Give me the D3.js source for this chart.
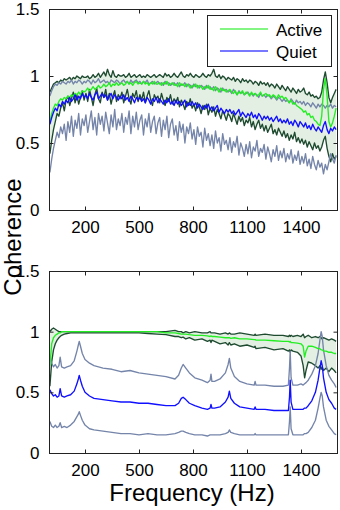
<!DOCTYPE html>
<html>
<head>
<meta charset="utf-8">
<script src="https://cdn.jsdelivr.net/npm/d3@7"></script>
<style>
  body { margin: 0; background: #fff; }
  svg { display: block; font-family: "Liberation Sans", Arial, sans-serif; }
</style>
</head>
<body>
<svg id="chart" width="340" height="510"></svg>
<script>
// top panel: sampled every 10 Hz (5 .. 1595), one row = 100 Hz
const topFreq = d3.range(5, 1600, 10);

const topActHi = [
  0.88,0.91,0.94,0.95,0.96,0.95,0.97,0.96,0.98,0.97,
  0.98,0.99,0.97,0.99,0.98,1.00,0.99,0.98,1.00,0.99,
  0.99,1.00,0.98,0.99,1.01,0.99,1.00,1.02,0.99,1.01,
  1.03,1.00,1.05,1.01,0.99,1.04,1.00,0.99,1.01,1.00,
  1.00,1.01,0.99,1.00,1.02,0.99,1.00,1.01,0.99,1.00,
  1.01,0.99,1.00,0.99,1.01,1.00,0.99,1.00,1.01,0.99,
  1.00,1.01,1.00,0.99,1.02,1.00,1.01,0.99,1.00,1.02,
  1.00,0.99,1.01,1.03,1.00,0.99,1.01,1.00,1.02,1.00,
  0.99,1.01,1.00,0.99,1.00,1.02,1.00,0.99,1.01,1.00,
  1.02,1.05,1.00,0.99,1.01,0.98,1.00,0.99,0.97,0.99,
  0.98,0.97,0.99,0.96,0.98,0.97,0.95,0.98,0.96,0.97,
  0.95,0.97,0.96,0.94,0.96,0.95,0.93,0.96,0.94,0.95,
  0.93,0.95,0.92,0.94,0.93,0.91,0.94,0.92,0.90,0.93,
  0.91,0.89,0.92,0.90,0.88,0.91,0.89,0.87,0.90,0.88,
  0.89,0.91,0.87,0.86,0.88,0.85,0.86,0.84,0.85,0.83,
  0.84,0.88,0.97,1.03,0.95,0.84,0.80,0.84,0.87,0.90
];
const topAct = [
  0.66,0.72,0.76,0.79,0.78,0.81,0.83,0.82,0.84,0.83,
  0.85,0.84,0.86,0.85,0.87,0.86,0.88,0.86,0.89,0.88,
  0.89,0.91,0.89,0.90,0.92,0.90,0.91,0.93,0.91,0.92,
  0.94,0.92,0.93,0.95,0.92,0.94,0.93,0.95,0.93,0.94,
  0.95,0.93,0.94,0.96,0.94,0.95,0.93,0.95,0.96,0.94,
  0.95,0.94,0.96,0.94,0.95,0.93,0.95,0.94,0.96,0.94,
  0.94,0.95,0.93,0.95,0.94,0.96,0.93,0.94,0.95,0.93,
  0.94,0.92,0.95,0.93,0.94,0.92,0.94,0.93,0.91,0.93,
  0.92,0.94,0.91,0.93,0.92,0.90,0.92,0.91,0.93,0.90,
  0.91,0.89,0.92,0.90,0.88,0.91,0.89,0.90,0.88,0.89,
  0.90,0.88,0.87,0.89,0.86,0.88,0.87,0.89,0.86,0.88,
  0.87,0.85,0.88,0.86,0.87,0.85,0.86,0.88,0.85,0.86,
  0.87,0.85,0.86,0.84,0.86,0.85,0.83,0.86,0.84,0.85,
  0.83,0.84,0.82,0.80,0.82,0.79,0.80,0.78,0.77,0.76,
  0.75,0.73,0.74,0.71,0.72,0.69,0.70,0.67,0.66,0.64,
  0.63,0.70,0.90,0.98,0.85,0.66,0.62,0.65,0.70,0.76
];
const topActLo = [
  0.42,0.52,0.60,0.66,0.72,0.70,0.76,0.80,0.74,0.82,
  0.85,0.78,0.83,0.88,0.80,0.86,0.79,0.84,0.89,0.82,
  0.87,0.81,0.90,0.84,0.78,0.86,0.91,0.83,0.80,0.88,
  0.84,0.90,0.82,0.87,0.79,0.85,0.89,0.81,0.86,0.83,
  0.88,0.80,0.85,0.90,0.83,0.79,0.87,0.84,0.89,0.81,
  0.86,0.82,0.88,0.80,0.85,0.89,0.82,0.78,0.86,0.83,
  0.85,0.80,0.87,0.82,0.78,0.84,0.81,0.86,0.79,0.83,
  0.80,0.84,0.77,0.82,0.79,0.75,0.81,0.78,0.83,0.76,
  0.79,0.74,0.80,0.77,0.72,0.78,0.75,0.79,0.71,0.76,
  0.73,0.77,0.70,0.75,0.72,0.68,0.74,0.71,0.67,0.72,
  0.70,0.66,0.72,0.68,0.64,0.70,0.66,0.69,0.63,0.67,
  0.65,0.69,0.62,0.66,0.60,0.64,0.67,0.61,0.64,0.59,
  0.63,0.58,0.61,0.64,0.57,0.60,0.56,0.61,0.58,0.55,
  0.59,0.54,0.57,0.52,0.56,0.53,0.58,0.51,0.54,0.50,
  0.53,0.49,0.52,0.47,0.51,0.48,0.45,0.50,0.46,0.48,
  0.44,0.47,0.52,0.55,0.46,0.40,0.36,0.42,0.38,0.40
];
const topQuiHi = [
  0.85,0.89,0.92,0.94,0.93,0.95,0.94,0.96,0.95,0.94,
  0.96,0.95,0.97,0.94,0.96,0.95,0.97,0.96,0.94,0.96,
  0.95,0.97,0.96,0.94,0.97,0.95,0.96,0.98,0.95,0.96,
  0.97,0.95,0.96,0.94,0.97,0.96,0.95,0.97,0.96,0.94,
  0.96,0.97,0.95,0.96,0.94,0.97,0.95,0.96,0.97,0.95,
  0.96,0.94,0.96,0.95,0.97,0.94,0.95,0.96,0.94,0.95,
  0.96,0.94,0.95,0.93,0.96,0.94,0.95,0.93,0.94,0.95,
  0.93,0.95,0.92,0.94,0.93,0.95,0.92,0.94,0.93,0.91,
  0.94,0.92,0.93,0.91,0.93,0.92,0.90,0.93,0.91,0.92,
  0.90,0.92,0.89,0.91,0.90,0.88,0.91,0.89,0.90,0.88,
  0.89,0.87,0.90,0.88,0.86,0.89,0.87,0.88,0.86,0.87,
  0.88,0.86,0.87,0.85,0.87,0.86,0.84,0.87,0.85,0.86,
  0.84,0.86,0.85,0.83,0.85,0.84,0.82,0.84,0.83,0.81,
  0.83,0.81,0.82,0.80,0.83,0.81,0.79,0.82,0.80,0.81,
  0.79,0.81,0.78,0.80,0.79,0.77,0.80,0.78,0.76,0.79,
  0.77,0.79,0.78,0.76,0.78,0.77,0.79,0.76,0.78,0.77
];
const topQui = [
  0.64,0.69,0.73,0.76,0.74,0.79,0.77,0.81,0.79,0.82,
  0.80,0.84,0.81,0.83,0.86,0.82,0.85,0.83,0.87,0.84,
  0.86,0.83,0.87,0.84,0.82,0.86,0.88,0.83,0.85,0.87,
  0.84,0.86,0.82,0.85,0.87,0.83,0.86,0.84,0.82,0.85,
  0.83,0.86,0.82,0.84,0.81,0.85,0.83,0.80,0.84,0.82,
  0.84,0.81,0.83,0.80,0.84,0.82,0.79,0.83,0.81,0.84,
  0.80,0.83,0.81,0.79,0.82,0.80,0.83,0.79,0.81,0.78,
  0.82,0.79,0.81,0.78,0.80,0.82,0.77,0.80,0.78,0.81,
  0.78,0.80,0.76,0.79,0.77,0.75,0.78,0.76,0.79,0.75,
  0.77,0.74,0.76,0.78,0.73,0.76,0.74,0.72,0.75,0.73,
  0.75,0.72,0.74,0.71,0.73,0.75,0.70,0.73,0.71,0.69,
  0.72,0.70,0.73,0.69,0.71,0.68,0.72,0.70,0.67,0.70,
  0.68,0.70,0.67,0.69,0.66,0.68,0.70,0.66,0.68,0.65,
  0.67,0.65,0.68,0.64,0.66,0.63,0.67,0.65,0.62,0.66,
  0.64,0.62,0.65,0.61,0.63,0.60,0.64,0.61,0.59,0.62,
  0.60,0.58,0.63,0.66,0.60,0.57,0.61,0.59,0.62,0.60
];
const topQuiLo = [
  0.28,0.38,0.46,0.52,0.58,0.54,0.62,0.57,0.64,0.52,
  0.66,0.58,0.70,0.55,0.67,0.61,0.72,0.56,0.68,0.63,
  0.71,0.58,0.66,0.74,0.60,0.69,0.56,0.72,0.64,0.70,
  0.59,0.73,0.65,0.57,0.71,0.62,0.75,0.60,0.68,0.63,
  0.72,0.58,0.69,0.64,0.74,0.57,0.70,0.62,0.73,0.60,
  0.67,0.71,0.56,0.68,0.62,0.72,0.58,0.66,0.70,0.57,
  0.65,0.69,0.55,0.67,0.60,0.70,0.54,0.64,0.68,0.56,
  0.63,0.52,0.66,0.58,0.64,0.50,0.62,0.57,0.65,0.53,
  0.60,0.49,0.62,0.55,0.58,0.47,0.61,0.52,0.57,0.48,
  0.56,0.46,0.59,0.50,0.54,0.44,0.57,0.49,0.52,0.45,
  0.54,0.43,0.51,0.47,0.55,0.41,0.50,0.46,0.40,0.49,
  0.42,0.51,0.39,0.47,0.44,0.52,0.40,0.46,0.43,0.49,
  0.38,0.47,0.42,0.36,0.45,0.40,0.48,0.37,0.44,0.39,
  0.46,0.36,0.42,0.38,0.45,0.35,0.41,0.37,0.44,0.34,
  0.40,0.35,0.42,0.33,0.38,0.31,0.40,0.34,0.30,0.37,
  0.32,0.35,0.27,0.34,0.30,0.36,0.42,0.38,0.35,0.41
];

// bottom panel: denser sampling around the peaks
const botFreq = [
  5,15,25,35,45,55,62,70,85,100,
  120,140,155,163,168,175,185,200,225,250,
  300,350,400,450,500,550,600,650,700,720,
  735,745,760,780,810,850,880,895,900,905,
  920,950,980,995,1002,1010,1030,1060,1100,1140,
  1145,1150,1200,1250,1300,1330,1336,1340,1345,1355,
  1380,1400,1412,1420,1428,1440,1460,1480,1495,1505,
  1512,1518,1525,1540,1555,1570,1585,1595
];
const botActHi = [
  1.00,1.02,1.03,1.02,1.01,1.00,1.00,1.00,1.00,1.00,
  1.00,1.00,1.00,1.00,1.00,1.00,1.00,1.00,1.00,1.00,
  1.00,1.00,1.00,1.00,1.00,1.00,1.00,1.00,1.01,1.00,
  1.00,0.99,1.00,0.99,1.00,0.99,0.99,1.00,0.99,0.99,
  0.99,0.98,0.99,0.98,0.99,0.98,0.98,0.99,0.98,0.97,
  0.98,0.97,0.98,0.97,0.97,0.96,0.97,0.96,0.97,0.96,
  0.97,0.96,0.98,0.95,0.96,0.97,0.95,0.96,0.95,0.96,
  0.95,0.94,0.95,0.94,0.93,0.94,0.93,0.92
];
const botAct = [
  0.72,0.90,0.95,0.97,0.98,0.99,0.99,1.00,1.00,1.00,
  1.00,1.00,1.00,1.00,1.00,1.00,1.00,1.00,1.00,1.00,
  1.00,1.00,1.00,1.00,1.00,1.00,1.00,0.99,0.99,0.985,
  0.98,0.98,0.98,0.975,0.97,0.97,0.965,0.96,0.965,0.96,
  0.96,0.955,0.95,0.95,0.95,0.945,0.95,0.94,0.94,0.935,
  0.935,0.93,0.93,0.925,0.92,0.92,0.915,0.92,0.91,0.91,
  0.905,0.90,0.88,0.79,0.84,0.88,0.88,0.87,0.86,0.86,
  0.85,0.85,0.84,0.84,0.83,0.83,0.82,0.82
];
const botActLo = [
  0.55,0.75,0.85,0.90,0.93,0.95,0.96,0.97,0.98,0.985,
  0.99,0.99,0.99,0.99,0.99,0.99,0.99,0.99,0.99,0.99,
  0.99,0.99,0.99,0.99,0.99,0.985,0.98,0.975,0.96,0.96,
  0.95,0.955,0.94,0.95,0.93,0.94,0.92,0.93,0.91,0.93,
  0.92,0.90,0.91,0.89,0.91,0.89,0.90,0.88,0.89,0.87,
  0.88,0.86,0.87,0.85,0.86,0.84,0.85,0.83,0.85,0.84,
  0.83,0.80,0.72,0.62,0.68,0.75,0.74,0.72,0.70,0.72,
  0.69,0.71,0.68,0.70,0.67,0.70,0.68,0.66
];
const botQuiHi = [
  0.80,0.74,0.71,0.73,0.70,0.72,0.79,0.71,0.70,0.71,
  0.72,0.76,0.84,0.89,0.92,0.88,0.82,0.77,0.74,0.72,
  0.70,0.69,0.67,0.68,0.66,0.65,0.64,0.63,0.61,0.64,
  0.70,0.73,0.70,0.66,0.62,0.60,0.58,0.60,0.65,0.59,
  0.59,0.61,0.66,0.73,0.78,0.70,0.63,0.59,0.57,0.56,
  0.59,0.56,0.56,0.55,0.55,0.56,0.70,0.84,0.62,0.56,
  0.56,0.57,0.56,0.57,0.58,0.60,0.65,0.72,0.82,0.93,
  1.00,0.96,0.85,0.72,0.64,0.60,0.57,0.54
];
const botQui = [
  0.52,0.49,0.47,0.48,0.46,0.47,0.53,0.47,0.46,0.47,
  0.48,0.51,0.57,0.61,0.64,0.60,0.55,0.50,0.47,0.45,
  0.44,0.43,0.42,0.42,0.41,0.41,0.40,0.39,0.39,0.41,
  0.45,0.46,0.44,0.41,0.39,0.37,0.36,0.37,0.40,0.37,
  0.37,0.38,0.42,0.46,0.51,0.45,0.41,0.38,0.37,0.36,
  0.38,0.36,0.36,0.35,0.35,0.35,0.46,0.60,0.42,0.36,
  0.36,0.36,0.36,0.37,0.37,0.39,0.43,0.50,0.60,0.70,
  0.76,0.72,0.62,0.50,0.44,0.41,0.37,0.36
];
const botQuiLo = [
  0.26,0.22,0.21,0.23,0.21,0.22,0.25,0.21,0.22,0.21,
  0.23,0.26,0.30,0.32,0.34,0.31,0.27,0.23,0.20,0.19,
  0.18,0.17,0.16,0.16,0.15,0.16,0.15,0.15,0.16,0.17,
  0.18,0.18,0.17,0.16,0.15,0.15,0.14,0.15,0.15,0.15,
  0.15,0.15,0.16,0.17,0.19,0.17,0.16,0.15,0.15,0.15,
  0.16,0.15,0.15,0.15,0.15,0.15,0.26,0.38,0.20,0.15,
  0.15,0.15,0.15,0.16,0.16,0.17,0.21,0.27,0.37,0.45,
  0.50,0.47,0.38,0.27,0.22,0.19,0.16,0.15
];

const xTicks = [200, 500, 800, 1100, 1400];
const yTicks = [0, 0.5, 1, 1.5];

const colors = {
  fill: "#e2efe2",
  actBound: "#1e4a30",
  quiBound: "#7585aa",
  act: "#22ee22",
  qui: "#1010ff"
};

const svg = d3.select("#chart");
const x = d3.scaleLinear().domain([0, 1600]).range([49, 337]);

function drawPanel(id, top, bottom, freq, s) {
  const y = d3.scaleLinear().domain([0, 1.5]).range([bottom, top]);
  const g = svg.append("g");

  svg.append("clipPath").attr("id", "clip-" + id)
    .append("rect")
    .attr("x", x.range()[0]).attr("y", top)
    .attr("width", x.range()[1] - x.range()[0]).attr("height", bottom - top);

  const plot = g.append("g").attr("clip-path", `url(#clip-${id})`);

  const band = freq.map((f, i) => ({ f, lo: s.actLo[i], hi: s.actHi[i] }));
  plot.append("path")
    .datum(band)
    .attr("fill", colors.fill)
    .attr("d", d3.area().x(d => x(d.f)).y0(d => y(d.lo)).y1(d => y(d.hi)));

  const line = d3.line().x((d, i) => x(freq[i])).y(d => y(d));
  const traces = [
    [s.actLo, colors.actBound],
    [s.actHi, colors.actBound],
    [s.quiLo, colors.quiBound],
    [s.quiHi, colors.quiBound],
    [s.act, colors.act],
    [s.qui, colors.qui]
  ];
  traces.forEach(([vals, c]) => {
    plot.append("path")
      .datum(vals)
      .attr("fill", "none")
      .attr("stroke", c)
      .attr("stroke-width", 1.35)
      .attr("stroke-linejoin", "round")
      .attr("d", line);
  });

  // box with inward ticks, MATLAB style
  g.append("rect")
    .attr("x", x.range()[0] + 0.5).attr("y", top + 0.5)
    .attr("width", x.range()[1] - x.range()[0]).attr("height", bottom - top)
    .attr("fill", "none").attr("stroke", "#222").attr("stroke-width", 1);

  g.append("g")
    .attr("transform", `translate(0,${bottom + 0.5})`)
    .call(d3.axisBottom(x).tickValues(xTicks).tickSizeInner(-4).tickSizeOuter(0).tickPadding(10).tickFormat(d3.format("d")))
    .call(a => a.select(".domain").remove())
    .call(a => a.selectAll("text").attr("font-size", 17).attr("fill", "#000")
      .attr("font-family", "Liberation Sans, Arial, sans-serif"));
  g.append("g")
    .attr("transform", `translate(0,${top + 0.5})`)
    .call(d3.axisTop(x).tickValues(xTicks).tickSizeInner(-4).tickSizeOuter(0).tickFormat(""))
    .call(a => a.select(".domain").remove());
  g.append("g")
    .attr("transform", `translate(${x.range()[0] + 0.5},0)`)
    .call(d3.axisLeft(y).tickValues(yTicks).tickSizeInner(-4).tickSizeOuter(0).tickPadding(10).tickFormat(d3.format("")))
    .call(a => a.select(".domain").remove())
    .call(a => a.selectAll("text").attr("font-size", 17).attr("fill", "#000")
      .attr("font-family", "Liberation Sans, Arial, sans-serif"));
  g.append("g")
    .attr("transform", `translate(${x.range()[1] + 0.5},0)`)
    .call(d3.axisRight(y).tickValues(yTicks).tickSizeInner(-4).tickSizeOuter(0).tickFormat(""))
    .call(a => a.select(".domain").remove());
  g.selectAll(".tick line").attr("stroke", "#222");
}

drawPanel("top", 9, 210, topFreq, {
  actHi: topActHi, act: topAct, actLo: topActLo,
  quiHi: topQuiHi, qui: topQui, quiLo: topQuiLo
});
drawPanel("bottom", 271, 453, botFreq, {
  actHi: botActHi, act: botAct, actLo: botActLo,
  quiHi: botQuiHi, qui: botQui, quiLo: botQuiLo
});

// legend
const legend = svg.append("g");
legend.append("rect")
  .attr("x", 207.5).attr("y", 15.5).attr("width", 124).attr("height", 51)
  .attr("fill", "#fff").attr("stroke", "#222");
[["Active", colors.act, 29], ["Quiet", colors.qui, 51]].forEach(([name, c, ly]) => {
  legend.append("line")
    .attr("x1", 220).attr("x2", 268).attr("y1", ly).attr("y2", ly)
    .attr("stroke", c).attr("stroke-width", 1.3).attr("opacity", 0.75);
  legend.append("text")
    .attr("x", 276).attr("y", ly + 6.5)
    .attr("font-size", 17).attr("fill", "#000")
    .text(name);
});

svg.append("text")
  .attr("transform", "translate(21,237) rotate(-90)")
  .attr("text-anchor", "middle")
  .attr("font-size", 24)
  .text("Coherence");

svg.append("text")
  .attr("x", 192).attr("y", 501)
  .attr("text-anchor", "middle")
  .attr("font-size", 24)
  .text("Frequency (Hz)");
</script>
</body>
</html>
